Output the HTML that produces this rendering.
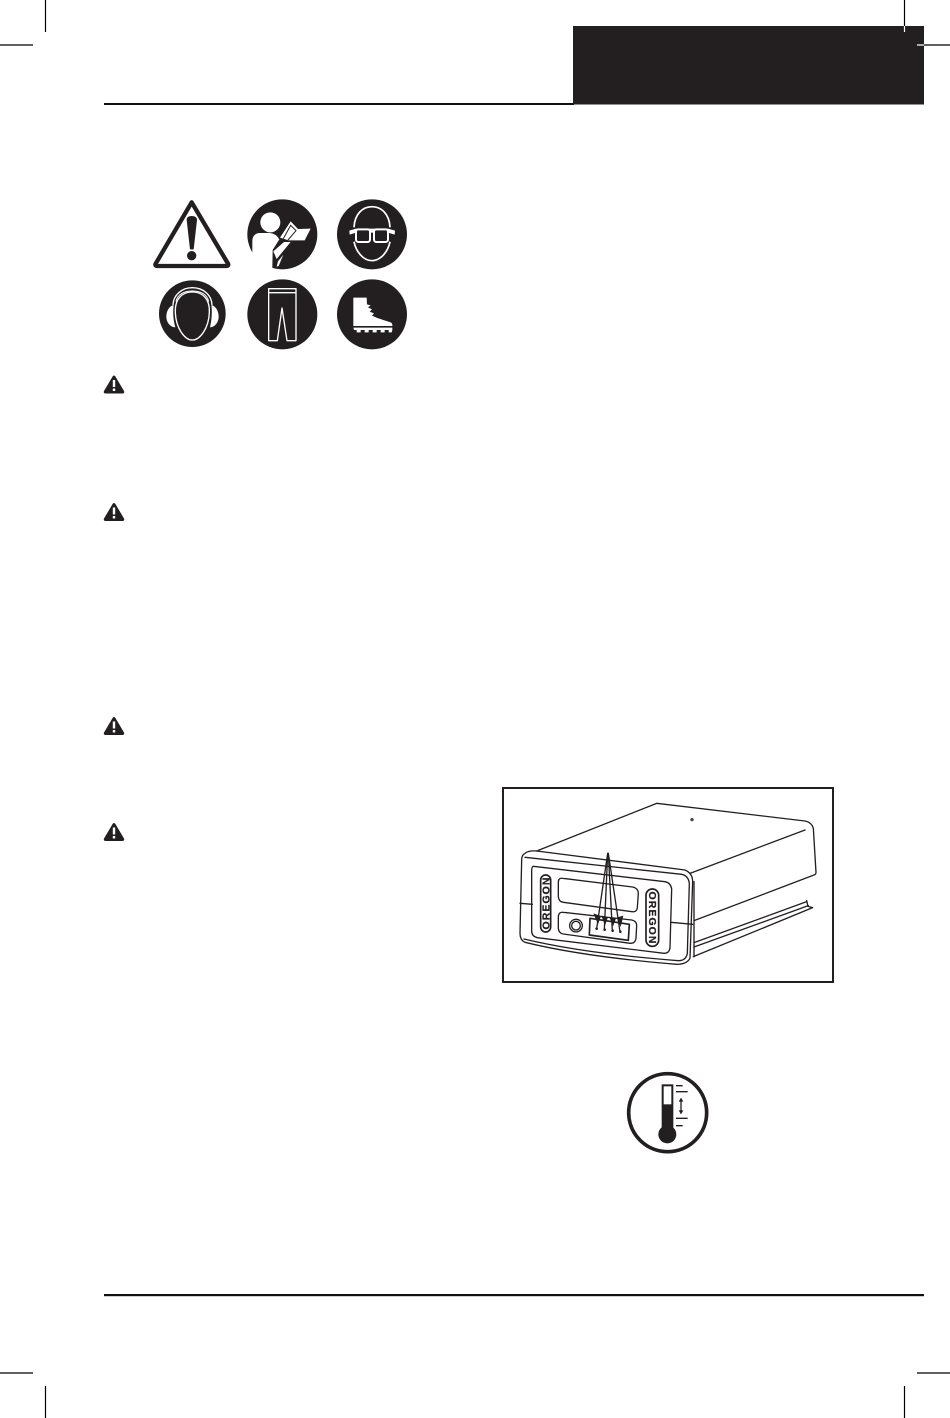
<!DOCTYPE html>
<html><head><meta charset="utf-8"><style>html,body{margin:0;padding:0;background:#fff;width:950px;height:1418px;overflow:hidden}svg{display:block}</style></head><body>
<svg width="950" height="1418" viewBox="0 0 950 1418" xmlns="http://www.w3.org/2000/svg">
<rect width="950" height="1418" fill="#fff"/>
<!-- header -->
<rect x="104" y="103" width="470" height="2" fill="#111"/>
<rect x="573" y="26" width="351" height="78.5" fill="#231f20"/>
<rect x="104" y="1294" width="820" height="2.2" fill="#111"/>
<!-- crop marks -->
<g stroke="#000" stroke-width="1.2" fill="none">
<path d="M45.5 0V32M0 45H33M0 1373H33M45.5 1386V1418M904.5 0V26M924 45H950M917 1373H950M904.5 1386V1418"/>
</g>
<path d="M904.5 26V32M917 45H924" stroke="#fff" stroke-width="1.2"/>
<!-- safety icons -->
<g transform="translate(140 190) scale(.33333)">
<path d="M155 37 L264 221 Q267 228 259 228 H52 Q44 228 47 221 Z" fill="#fff" stroke="#231f20" stroke-width="13" stroke-linejoin="round"/>
<path d="M140 90 Q140 78 155 78 Q171 78 171 90 L161 178 H150 Z" fill="#231f20"/>
<circle cx="155" cy="197" r="14" fill="#231f20"/>

<circle cx="427" cy="133" r="105" fill="#231f20"/>
<circle cx="391" cy="97" r="30" fill="#fff"/>
<path d="M337 152 Q338 133 356 129 H388 Q408 130 418 148 L398 180 L397 235 Q358 222 337 190 Z" fill="#fff"/>
<path d="M420 143 L452 94 L474 117 L512 116 L494 151 L446 151 Z" fill="#fff"/>
<path d="M430 146 L452 106 L468 122 L444 150" fill="none" stroke="#231f20" stroke-width="3"/>
<path d="M400 184 L410 207 L452 156 L432 156 Z" fill="#fff"/>
<path d="M410 230 L414 214 L430 194 L416 228 Z" fill="#fff"/>

<circle cx="696" cy="133" r="105" fill="#231f20"/>
<path d="M642 112 C644 72 668 50 696 50 C724 50 748 72 750 112 M750 155 C744 185 722 212 696 212 C670 212 648 185 642 155" fill="none" stroke="#fff" stroke-width="5"/>
<path d="M628 122 L648 116 H744 L765 122 L764 134 L744 128 H648 L629 134 Z" fill="#fff"/>
<rect x="648" y="118" width="42" height="38" rx="7" fill="#231f20" stroke="#fff" stroke-width="6"/>
<rect x="702" y="118" width="42" height="38" rx="7" fill="#231f20" stroke="#fff" stroke-width="6"/>

<circle cx="157" cy="371" r="100" fill="#231f20"/>
<path d="M106 368 C104 325 128 306 157 306 C186 306 210 325 208 368 C206 415 180 450 157 450 C134 450 108 415 106 368 Z" fill="#231f20" stroke="#fff" stroke-width="4"/>
<path d="M99 345 C100 315 125 293 157 293 C190 293 215 315 216 345" fill="none" stroke="#fff" stroke-width="4"/>
<path d="M108 335 C112 313 132 303 157 303 C182 303 202 313 206 335" fill="none" stroke="#fff" stroke-width="3"/>
<path d="M101 345 C87 348 79 364 79 380 C79 396 90 412 106 412 C100 390 98 368 101 345 Z" fill="#fff"/>
<path d="M214 345 C228 348 236 364 236 380 C236 396 225 412 210 412 C215 390 217 368 214 345 Z" fill="#fff"/>

<circle cx="427" cy="373" r="105" fill="#231f20"/>
<path d="M386 296 H468 V452 H441 L426 354 L412 452 H386 Z" fill="none" stroke="#fff" stroke-width="4" stroke-linejoin="round"/>
<path d="M386 308 H468" stroke="#fff" stroke-width="4"/>

<circle cx="696" cy="373" r="105" fill="#231f20"/>
<path d="M640 323 H680 L681 343 L692 346 L684 352 L696 358 L689 365 L702 370 L696 377 L712 384 L752 397 Q758 400 757 408 H640 Z" fill="#fff"/>
<path d="M640 413 H757 V420 L755 427 H746 V420 H734 V427 H722 V420 H710 V427 H698 V420 H686 V427 H674 V420 H662 V427 H650 V420 H642 Z" fill="#fff"/>
</g>
<!-- small warnings -->
<g fill="#231f20">
<path d="M114 375.5 Q115 375.5 116 377.5 L124 391 Q125 393.5 122 393.5 H106 Q103 393.5 104 391 L112 377.5 Q113 375.5 114 375.5 Z"/>
<path d="M114 503 Q115 503 116 505 L124 518.5 Q125 521 122 521 H106 Q103 521 104 518.5 L112 505 Q113 503 114 503 Z"/>
<path d="M114 717 Q115 717 116 719 L124 732.5 Q125 735 122 735 H106 Q103 735 104 732.5 L112 719 Q113 717 114 717 Z"/>
<path d="M114 823 Q115 823 116 825 L124 838.5 Q125 841 122 841 H106 Q103 841 104 838.5 L112 825 Q113 823 114 823 Z"/>
</g>
<g fill="#fff">
<path d="M112.8 380H115.2V387H112.8ZM112.8 388.5H115.2V391H112.8Z"/>
<path d="M112.8 507.5H115.2V514.5H112.8ZM112.8 516H115.2V518.5H112.8Z"/>
<path d="M112.8 721.5H115.2V728.5H112.8ZM112.8 730H115.2V732.5H112.8Z"/>
<path d="M112.8 827.5H115.2V834.5H112.8ZM112.8 836H115.2V838.5H112.8Z"/>
</g>
<!-- device figure -->
<rect x="503" y="788" width="330" height="194" fill="#fff" stroke="#231f20" stroke-width="2"/>
<g transform="translate(500 785) scale(.33333)" fill="none" stroke="#231f20" stroke-width="4" stroke-linejoin="round" stroke-linecap="round">
<path d="M110 198 L470 55 L915 108 Q935 112 940 130 L948 262 Q948 268 942 270 L582 407"/>
<path d="M570 265 L915 135"/>
<path d="M920 347 L924 364 L938 368 L580 515"/>
<path d="M582 473 L920 350 M582 486 L925 362"/>
<path d="M582 290 L582 515"/>
<path d="M75 205 Q65 210 65 225 L60 445 Q60 465 75 472 Q250 515 530 538 Q560 538 570 520 L578 290 Q578 265 555 255 L110 198 Q85 196 75 205 Z"/>
<path d="M75 217 L545 268 Q565 272 568 295 L562 505 Q558 527 535 527 Q250 505 72 462"/>
<path d="M100 244 L495 290 Q512 293 515 312 L510 488 Q508 505 492 505 L112 458 Q95 454 95 438 L95 260 Q95 244 100 244 Z"/>
<path d="M60 355 L97 358 M512 412 L578 418"/>
<path d="M188 280 L398 306 Q415 310 415 325 L412 368 Q410 382 396 380 L190 352 Q176 350 175 335 L175 292 Q175 278 188 280 Z"/>
<path d="M190 382 L395 405 Q410 408 410 422 L408 460 Q406 476 390 475 L190 447 Q176 445 175 430 L175 395 Q176 380 190 382 Z"/>
<circle cx="228" cy="422" r="19"/>
<circle cx="228" cy="422" r="13"/>
<path d="M270 400 L388 418 L385 466 L268 450 Z" stroke-width="5"/>
<rect x="122" y="270" width="30" height="171" rx="15" stroke-width="5"/>
<rect x="438" y="312" width="38" height="172" rx="19" stroke-width="5"/>
<path d="M323 205 L290 431 M323 205 L313 434 M325 205 L337 437 M325 205 L360 440" stroke-width="4"/>
<g fill="#231f20" stroke="none">
<path d="M280 385 L303 393 L294 418 Z M304 392 L324 396 L315 422 Z M328 396 L348 400 L339 424 Z M350 398 L370 392 L362 426 Z"/>
<circle cx="290" cy="431" r="4"/><circle cx="314" cy="434" r="4"/><circle cx="338" cy="437" r="4"/><circle cx="361" cy="440" r="4"/>
</g>
<circle cx="576" cy="104" r="5" fill="#444" stroke="none"/>
</g>
<g font-family="Liberation Sans, sans-serif" font-weight="700" font-size="10.5" fill="#231f20" text-anchor="middle" stroke="#231f20" stroke-width=".25">
<text transform="translate(545.7 903.5) rotate(-90)" y="3.7" textLength="52" lengthAdjust="spacing">OREGON</text>
<text transform="translate(652.5 917.5) rotate(90)" y="3.7" textLength="52" lengthAdjust="spacing">OREGON</text>
</g>
<!-- thermometer -->
<g transform="translate(620 1065) scale(.33333)">
<circle cx="143" cy="143" r="117" fill="#fff" stroke="#231f20" stroke-width="11"/>
<rect x="125" y="58" width="35" height="150" fill="#231f20"/>
<circle cx="142" cy="208" r="27" fill="#231f20"/>
<rect x="131" y="64" width="23" height="54" fill="#fff"/>
<path d="M168 62H188M168 80H203M168 160H203M168 182H188" stroke="#231f20" stroke-width="4" fill="none"/>
<path d="M183 106V140" stroke="#231f20" stroke-width="4"/>
<path d="M183 98L190 110H176ZM183 148L190 136H176Z" fill="#231f20"/>
</g>
</svg>
</body></html>
